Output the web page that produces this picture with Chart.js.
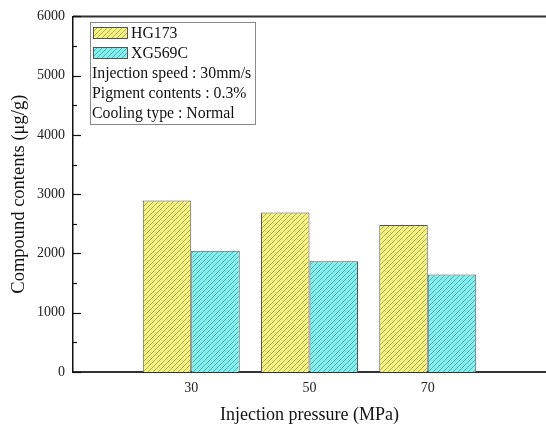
<!DOCTYPE html>
<html><head><meta charset="utf-8">
<script src="https://cdn.jsdelivr.net/npm/chart.js@4"></script>
<style>html,body{margin:0;padding:0;background:#fff;}#wrap{width:546px;height:430px;}</style>
</head><body><div id="wrap"><canvas id="c" width="546" height="430"></canvas></div>
<script>
const pressures = ['30', '50', '70'];
const hg173 = [2895, 2690, 2480];
const xg569c = [2045, 1870, 1645];
const yTicks = [0, 1000, 2000, 3000, 4000, 5000, 6000];
const infoLines = ['Injection speed : 30mm/s', 'Pigment contents : 0.3%', 'Cooling type : Normal'];

const labels = [''].concat(pressures, ['']);
const pad = arr => [null].concat(arr, [null]);

function hatch(bg, line) {
  const n = 5;
  const c = document.createElement('canvas');
  c.width = n; c.height = n;
  const g = c.getContext('2d');
  g.fillStyle = bg; g.fillRect(0, 0, n, n);
  g.strokeStyle = line; g.lineWidth = 0.8;
  g.beginPath();
  g.moveTo(-1, n + 1); g.lineTo(n + 1, -1);
  g.moveTo(-1, 1); g.lineTo(1, -1);
  g.moveTo(n - 1, n + 1); g.lineTo(n + 1, n - 1);
  g.stroke();
  return g.createPattern(c, 'repeat');
}
const ctx0 = document.getElementById('c').getContext('2d');
const yellowPat = hatch('#f6f27e', 'rgba(120,120,80,0.7)');
const tealPat = hatch('#82f0ef', 'rgba(60,120,130,0.7)');

const serif = "'Liberation Serif', 'Times New Roman', serif";

const deco = {
  id: 'deco',
  afterDraw(chart) {
    const ctx = chart.ctx, a = chart.chartArea, ys = chart.scales.y;
    ctx.save();
    ctx.strokeStyle = '#333'; ctx.lineWidth = 2;
    ctx.beginPath(); ctx.moveTo(a.left, a.top); ctx.lineTo(546, a.top); ctx.stroke();
    ctx.strokeStyle = '#111'; ctx.lineWidth = 1.2;
    for (let v = 0; v <= 6000; v += 500) {
      const y = Math.round(ys.getPixelForValue(v)) + 0.5;
      const len = (v % 1000 === 0) ? 8 : 4;
      ctx.beginPath(); ctx.moveTo(a.left, y); ctx.lineTo(a.left + len, y); ctx.stroke();
    }
    const bx = 90.5, by = 22.5, bw = 165, bh = 102;
    ctx.strokeStyle = '#888'; ctx.lineWidth = 1;
    ctx.fillStyle = '#fff';
    ctx.fillRect(bx, by, bw, bh);
    ctx.strokeRect(bx, by, bw, bh);
    const items = [
      {t: chart.data.datasets[0].label, p: yellowPat},
      {t: chart.data.datasets[1].label, p: tealPat}
    ];
    ctx.font = '15.8px ' + serif;
    ctx.textBaseline = 'middle';
    items.forEach((it, i) => {
      const cy = 33 + i * 20;
      ctx.fillStyle = it.p;
      ctx.fillRect(93, cy - 6, 35, 12);
      ctx.strokeStyle = '#555'; ctx.lineWidth = 1;
      ctx.strokeRect(93.5, cy - 5.5, 34, 11);
      ctx.fillStyle = '#111';
      ctx.fillText(it.t, 131, cy + 1);
    });
    ctx.fillStyle = '#111';
    infoLines.forEach((t, i) => {
      ctx.fillText(t, 92, 73 + i * 20 + 1);
    });
    ctx.restore();
  }
};

new Chart(ctx0, {
  type: 'bar',
  data: {
    labels: labels,
    datasets: [
      {label: 'HG173', data: pad(hg173), backgroundColor: yellowPat, borderColor: '#555', borderWidth: 1},
      {label: 'XG569C', data: pad(xg569c), backgroundColor: tealPat, borderColor: '#555', borderWidth: 1}
    ]
  },
  options: {
    responsive: false,
    animation: false,
    devicePixelRatio: 1,
    layout: {padding: {top: 12, right: -4, left: 0, bottom: 0}},
    plugins: {legend: {display: false}, tooltip: {enabled: false}},
    datasets: {bar: {categoryPercentage: 0.82, barPercentage: 1.0}},
    scales: {
      x: {
        offset: false,
        grid: {display: false, drawTicks: false},
        border: {display: true, color: '#333', width: 2},
        ticks: {color: '#222', font: {family: serif, size: 14}, padding: 8, maxRotation: 0, autoSkip: false},
        title: {display: true, text: 'Injection pressure (MPa)', color: '#111', font: {family: serif, size: 18}, padding: {top: 10}},
        afterFit(s) { s.height = 58; s.paddingLeft = 0; s.paddingRight = 0; }
      },
      y: {
        min: 0, max: 6000,
        afterBuildTicks(s) { s.ticks = yTicks.map(v => ({value: v})); },
        grid: {display: false, drawTicks: false},
        border: {display: true, color: '#111', width: 1.5},
        ticks: {color: '#222', font: {family: serif, size: 14}, padding: 8, callback: v => String(v)},
        title: {display: true, text: 'Compound contents (μg/g)', color: '#111', font: {family: serif, size: 18.5}, padding: {top: 8, bottom: 4}},
        afterFit(s) { s.width = 73; }
      }
    }
  },
  plugins: [deco]
});
</script></body></html>
